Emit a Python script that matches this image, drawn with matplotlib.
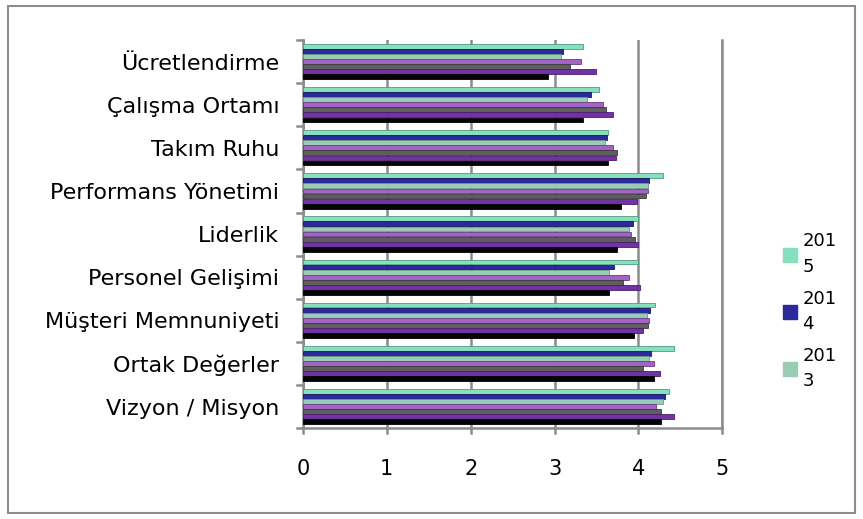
import matplotlib
matplotlib.use("Agg")
import matplotlib.pyplot as plt
import numpy as np

plt.rcParams['font.family'] = ['DejaVu Sans']

# categories bottom -> top
categories = ["Vizyon / Misyon", "Ortak Değerler", "Müşteri Memnuniyeti",
              "Personel Gelişimi", "Liderlik", "Performans Yönetimi",
              "Takım Ruhu", "Çalışma Ortamı", "Ücretlendirme"]
years = ["2015", "2014", "2013", "2012", "2011", "2010", "2009"]
legend_labels = ["201\n5", "201\n4", "201\n3"]

v2015 = [4.36, 4.42, 4.20, 3.99, 3.99, 4.29, 3.64, 3.53, 3.34]
v2014 = [4.32, 4.15, 4.14, 3.71, 3.94, 4.13, 3.62, 3.43, 3.10]
v2013 = [4.29, 4.13, 4.10, 3.65, 3.89, 4.11, 3.60, 3.39, 3.08]
v2012 = [4.21, 4.18, 4.13, 3.89, 3.91, 4.11, 3.70, 3.58, 3.32]
v2011 = [4.27, 4.05, 4.11, 3.81, 3.96, 4.09, 3.74, 3.61, 3.18]
v2010 = [4.42, 4.26, 4.06, 4.02, 3.99, 3.98, 3.73, 3.70, 3.49]
v2009 = [4.27, 4.18, 3.95, 3.65, 3.74, 3.79, 3.64, 3.34, 2.92]
series = [v2015, v2014, v2013, v2012, v2011, v2010, v2009]

colors = ["#86dfbd", "#2a2a9c", "#9ccbb5", "#a163c4", "#5e5e5e", "#7132a3", "#050505"]
edges = ["#4f9c80", "#16165e", "#6a9a84", "#6b3a88", "#3a3a3a", "#4a1d70", "#000000"]

fig = plt.figure(figsize=(8.63, 5.19), dpi=100)
ax = fig.add_axes([0.351, 0.175, 0.486, 0.748])

n = len(series)
bh = 0.118
y = np.arange(len(categories))
for i, (vals, c, ec) in enumerate(zip(series, colors, edges)):
    off = (n - 1) / 2 - i
    ax.barh(y + off * bh, vals, height=bh * 0.95, color=c, edgecolor=ec,
            linewidth=0.6, zorder=3)

ax.set_xlim(0, 5)
ax.set_ylim(-0.5, len(categories) - 0.5)
ax.set_xticks(range(6))
ax.set_xticklabels([str(i) for i in range(6)], fontsize=15)
ax.set_yticks(y)
ax.set_yticklabels(categories, fontsize=16)
ax.tick_params(axis='y', length=0, pad=17)
ax.tick_params(axis='x', length=0, pad=22)
for yy in np.arange(-0.5, len(categories), 1.0):
    ax.plot([-0.07, 0], [yy, yy], color="#8c8c8c", lw=1.8, clip_on=False, zorder=2)
for xx in range(6):
    ax.plot([xx, xx], [-0.5, -0.62], color="#8c8c8c", lw=1.8, clip_on=False, zorder=2)
ax.grid(axis='x', color="#8c8c8c", lw=1.8, zorder=0)
ax.spines["top"].set_visible(False)
for s in ["left", "bottom", "right"]:
    ax.spines[s].set_color("#8c8c8c")
    ax.spines[s].set_linewidth(1.8)

handles = [plt.Rectangle((0, 0), 1, 1, color=c) for c in colors[:3]]
leg = fig.legend(handles, legend_labels, loc="center left", bbox_to_anchor=(0.888, 0.40),
                 frameon=False, fontsize=13, handlelength=0.8, handleheight=0.8,
                 handletextpad=0.3, labelspacing=0.75)
for t in leg.get_texts():
    t.set_linespacing(1.55)

border = plt.Rectangle((0.009, 0.012), 0.982, 0.976, transform=fig.transFigure,
                       fill=False, edgecolor="#8c8c8c", lw=1.5)
fig.patches.append(border)

fig.savefig("out.png", dpi=100)
